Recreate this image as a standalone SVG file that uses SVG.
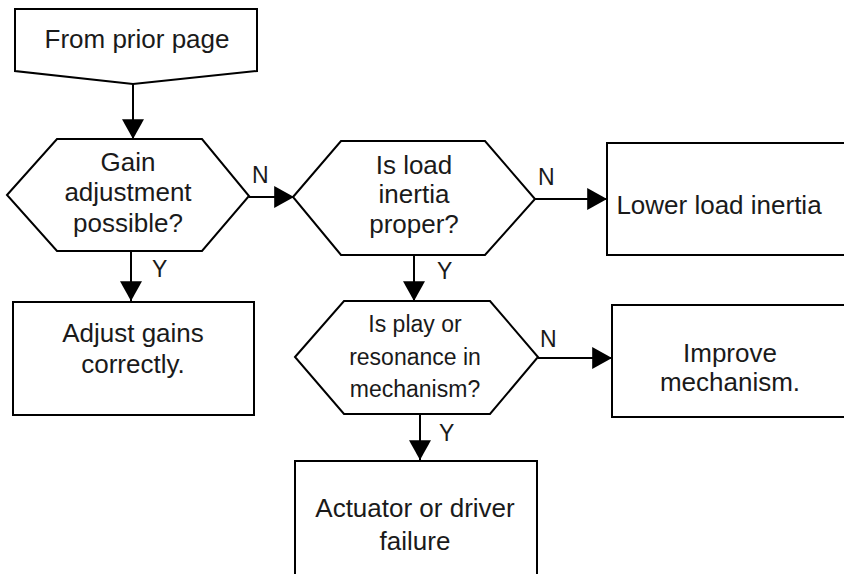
<svg xmlns="http://www.w3.org/2000/svg" width="844" height="574" viewBox="0 0 844 574">
<defs>
<marker id="ah" markerUnits="userSpaceOnUse" markerWidth="20" markerHeight="22" refX="18" refY="10" orient="auto" viewBox="0 0 18 20">
<path d="M0,0 L18,10 L0,20 Z" fill="#000"/>
</marker>
<style>
.s{fill:#fff;stroke:#000;stroke-width:2}
.t{font-family:"Liberation Sans",Arial,sans-serif;font-size:26px;fill:#1a1a1a;text-anchor:middle}
.t2{font-family:"Liberation Sans",Arial,sans-serif;font-size:23px;fill:#1a1a1a;text-anchor:middle}
.l{font-family:"Liberation Sans",Arial,sans-serif;font-size:23px;fill:#1a1a1a}
.c{fill:none;stroke:#000;stroke-width:2;marker-end:url(#ah)}
</style>
</defs>
<rect width="844" height="574" fill="#fff"/>
<g id="connectors">
<line class="c" x1="133" y1="84" x2="133" y2="139"/>
<line class="c" x1="249" y1="197" x2="294" y2="197"/>
<line class="c" x1="535" y1="199" x2="607" y2="199"/>
<line class="c" x1="131" y1="251" x2="131" y2="301"/>
<line class="c" x1="414" y1="255" x2="414" y2="301"/>
<line class="c" x1="538" y1="358" x2="612" y2="358"/>
<line class="c" x1="420" y1="414" x2="420" y2="460"/>
<text class="l" x="252" y="183">N</text>
<text class="l" x="152" y="277">Y</text>
<text class="l" x="538" y="185">N</text>
<text class="l" x="437" y="279">Y</text>
<text class="l" x="540" y="347">N</text>
<text class="l" x="439" y="441">Y</text>
</g>
<g id="from-prior-page">
<path class="s" d="M15,9 L257,9 L257,71 L133,84 L15,71 Z"/>
<text class="t" x="137" y="48">From prior page</text>
</g>
<g id="gain-adjustment">
<path class="s" d="M7,195 L57,139 L202,139 L249,196 L202,251 L57,251 Z"/>
<text class="t" x="128" y="171">Gain</text>
<text class="t" x="128" y="201">adjustment</text>
<text class="t" x="128" y="232">possible?</text>
</g>
<g id="load-inertia">
<path class="s" d="M293,197 L341,141 L485,141 L535,199 L485,255 L341,255 Z"/>
<text class="t" x="414" y="174">Is load</text>
<text class="t" x="414" y="203">inertia</text>
<text class="t" x="414" y="233">proper?</text>
</g>
<g id="lower-load-inertia">
<rect class="s" x="607" y="143" width="250" height="112"/>
<text class="t" x="719" y="214">Lower load inertia</text>
</g>
<g id="adjust-gains">
<rect class="s" x="13" y="302" width="241" height="113"/>
<text class="t" x="133" y="342">Adjust gains</text>
<text class="t" x="133" y="373">correctly.</text>
</g>
<g id="play-resonance">
<path class="s" d="M295,357 L344,301 L490,301 L538,357 L490,414 L344,414 Z"/>
<text class="t2" x="415" y="332">Is play or</text>
<text class="t2" x="415" y="365">resonance in</text>
<text class="t2" x="415" y="397">mechanism?</text>
</g>
<g id="improve-mechanism">
<rect class="s" x="612" y="305" width="250" height="112"/>
<text class="t" x="730" y="362">Improve</text>
<text class="t" x="730" y="391">mechanism.</text>
</g>
<g id="actuator-failure">
<rect class="s" x="295" y="461" width="242" height="130"/>
<text class="t" x="415" y="517">Actuator or driver</text>
<text class="t" x="415" y="550">failure</text>
</g>
</svg>
